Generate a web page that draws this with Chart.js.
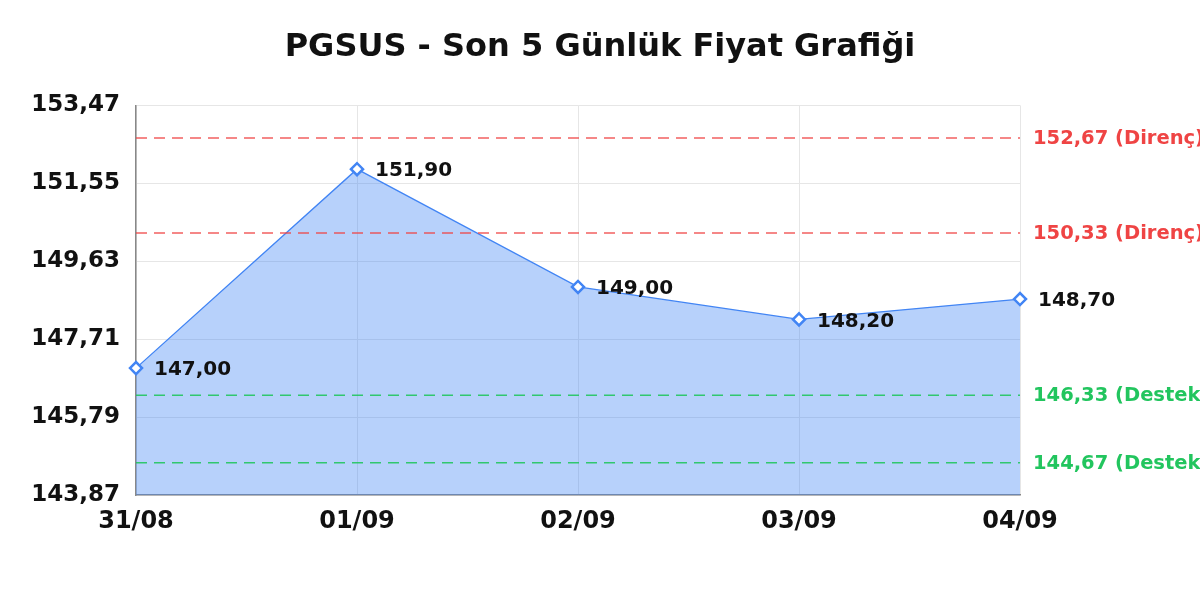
<!DOCTYPE html>
<html>
<head>
<meta charset="utf-8">
<script src="https://cdn.jsdelivr.net/npm/chart.js@4/dist/chart.umd.min.js"></script>
<style>
  body { margin: 0; background: #fff; }
  #wrap { width: 1200px; height: 600px; }
</style>
</head>
<body>
<div id="wrap"><canvas id="chartCanvas"></canvas></div>
<script>
const dates = ['31/08', '01/09', '02/09', '03/09', '04/09'];
const prices = [147.00, 151.90, 149.00, 148.20, 148.70];
const yTicks = [143.87, 145.79, 147.71, 149.63, 151.55, 153.47];
const resistance = [152.67, 150.33];
const support = [146.33, 144.67];

const FONT = 'DejaVu Sans';
const fmt = v => v.toFixed(2).replace('.', ',');

// destek / direnç çizgileri ve etiketleri
const levelsPlugin = {
    id: 'levels',
    afterDatasetsDraw(chart) {
        const { ctx, chartArea, scales } = chart;
        const levels = [
            ...resistance.map(v => ({ v, label: 'Direnç', line: 'rgba(239,68,68,0.85)', text: 'rgb(239,68,68)' })),
            ...support.map(v => ({ v, label: 'Destek', line: 'rgba(34,197,94,0.9)', text: 'rgb(34,197,94)' }))
        ];
        ctx.save();
        for (let lv of levels) {
            const y = scales.y.getPixelForValue(lv.v);
            ctx.beginPath();
            ctx.setLineDash([11, 7]);
            ctx.lineWidth = 1.5;
            ctx.strokeStyle = lv.line;
            ctx.moveTo(chartArea.left, y);
            ctx.lineTo(chartArea.right, y);
            ctx.stroke();
            ctx.setLineDash([]);
            ctx.fillStyle = lv.text;
            ctx.font = 'bold 19.5px ' + FONT;
            ctx.textAlign = 'left';
            ctx.textBaseline = 'middle';
            ctx.fillText(fmt(lv.v) + ' (' + lv.label + ')', chartArea.right + 13, y + 1);
        }
        // nokta değerleri
        const meta = chart.getDatasetMeta(0);
        ctx.fillStyle = '#111';
        ctx.font = 'bold 20px ' + FONT;
        meta.data.forEach((pt, i) => {
            ctx.fillText(fmt(prices[i]), pt.x + 18, pt.y + 2);
        });
        ctx.restore();
    }
};

const ctx = document.getElementById('chartCanvas');
new Chart(ctx, {
    type: 'line',
    data: {
        labels: dates,
        datasets: [{
            label: 'PGSUS',
            data: prices,
            fill: 'start',
            backgroundColor: 'rgba(66,133,244,0.38)',
            borderColor: 'rgb(66,133,244)',
            borderWidth: 1.3,
            tension: 0,
            pointStyle: 'rectRot',
            pointRadius: 6,
            pointBorderWidth: 2.5,
            pointBackgroundColor: '#fff',
            pointBorderColor: 'rgb(66,133,244)'
        }]
    },
    options: {
        responsive: true,
        maintainAspectRatio: false,
        animation: false,
        layout: { padding: { left: 0, right: 0, top: 0, bottom: 52 } },
        plugins: {
            legend: { display: false },
            tooltip: { enabled: false },
            title: {
                display: true,
                text: 'PGSUS - Son 5 Günlük Fiyat Grafiği',
                color: '#111',
                font: { family: FONT, size: 32, weight: 'bold' },
                padding: { top: 28, bottom: 39 }
            }
        },
        scales: {
            x: {
                grid: { color: '#e6e6e6', drawTicks: false },
                border: { color: '#888', width: 1.5 },
                ticks: {
                    color: '#111',
                    padding: 12,
                    maxRotation: 0,
                    font: { family: FONT, size: 24, weight: 'bold' }
                }
            },
            y: {
                min: yTicks[0],
                max: yTicks[yTicks.length - 1],
                afterBuildTicks(axis) {
                    axis.ticks = yTicks.map(v => ({ value: v }));
                },
                afterFit(axis) { axis.width = 136; },
                grid: { color: '#e6e6e6', drawTicks: false },
                border: { color: '#888', width: 1.5 },
                ticks: {
                    color: '#111',
                    padding: 16,
                    font: { family: FONT, size: 23, weight: 'bold' },
                    callback: v => fmt(v)
                }
            },
            // sağdaki etiketler için boş alan
            yRight: {
                position: 'right',
                min: yTicks[0],
                max: yTicks[yTicks.length - 1],
                grid: { display: false, drawTicks: false },
                border: { display: false },
                ticks: { display: false },
                afterFit(axis) { axis.width = 180; }
            }
        }
    },
    plugins: [levelsPlugin]
});
</script>
</body>
</html>
